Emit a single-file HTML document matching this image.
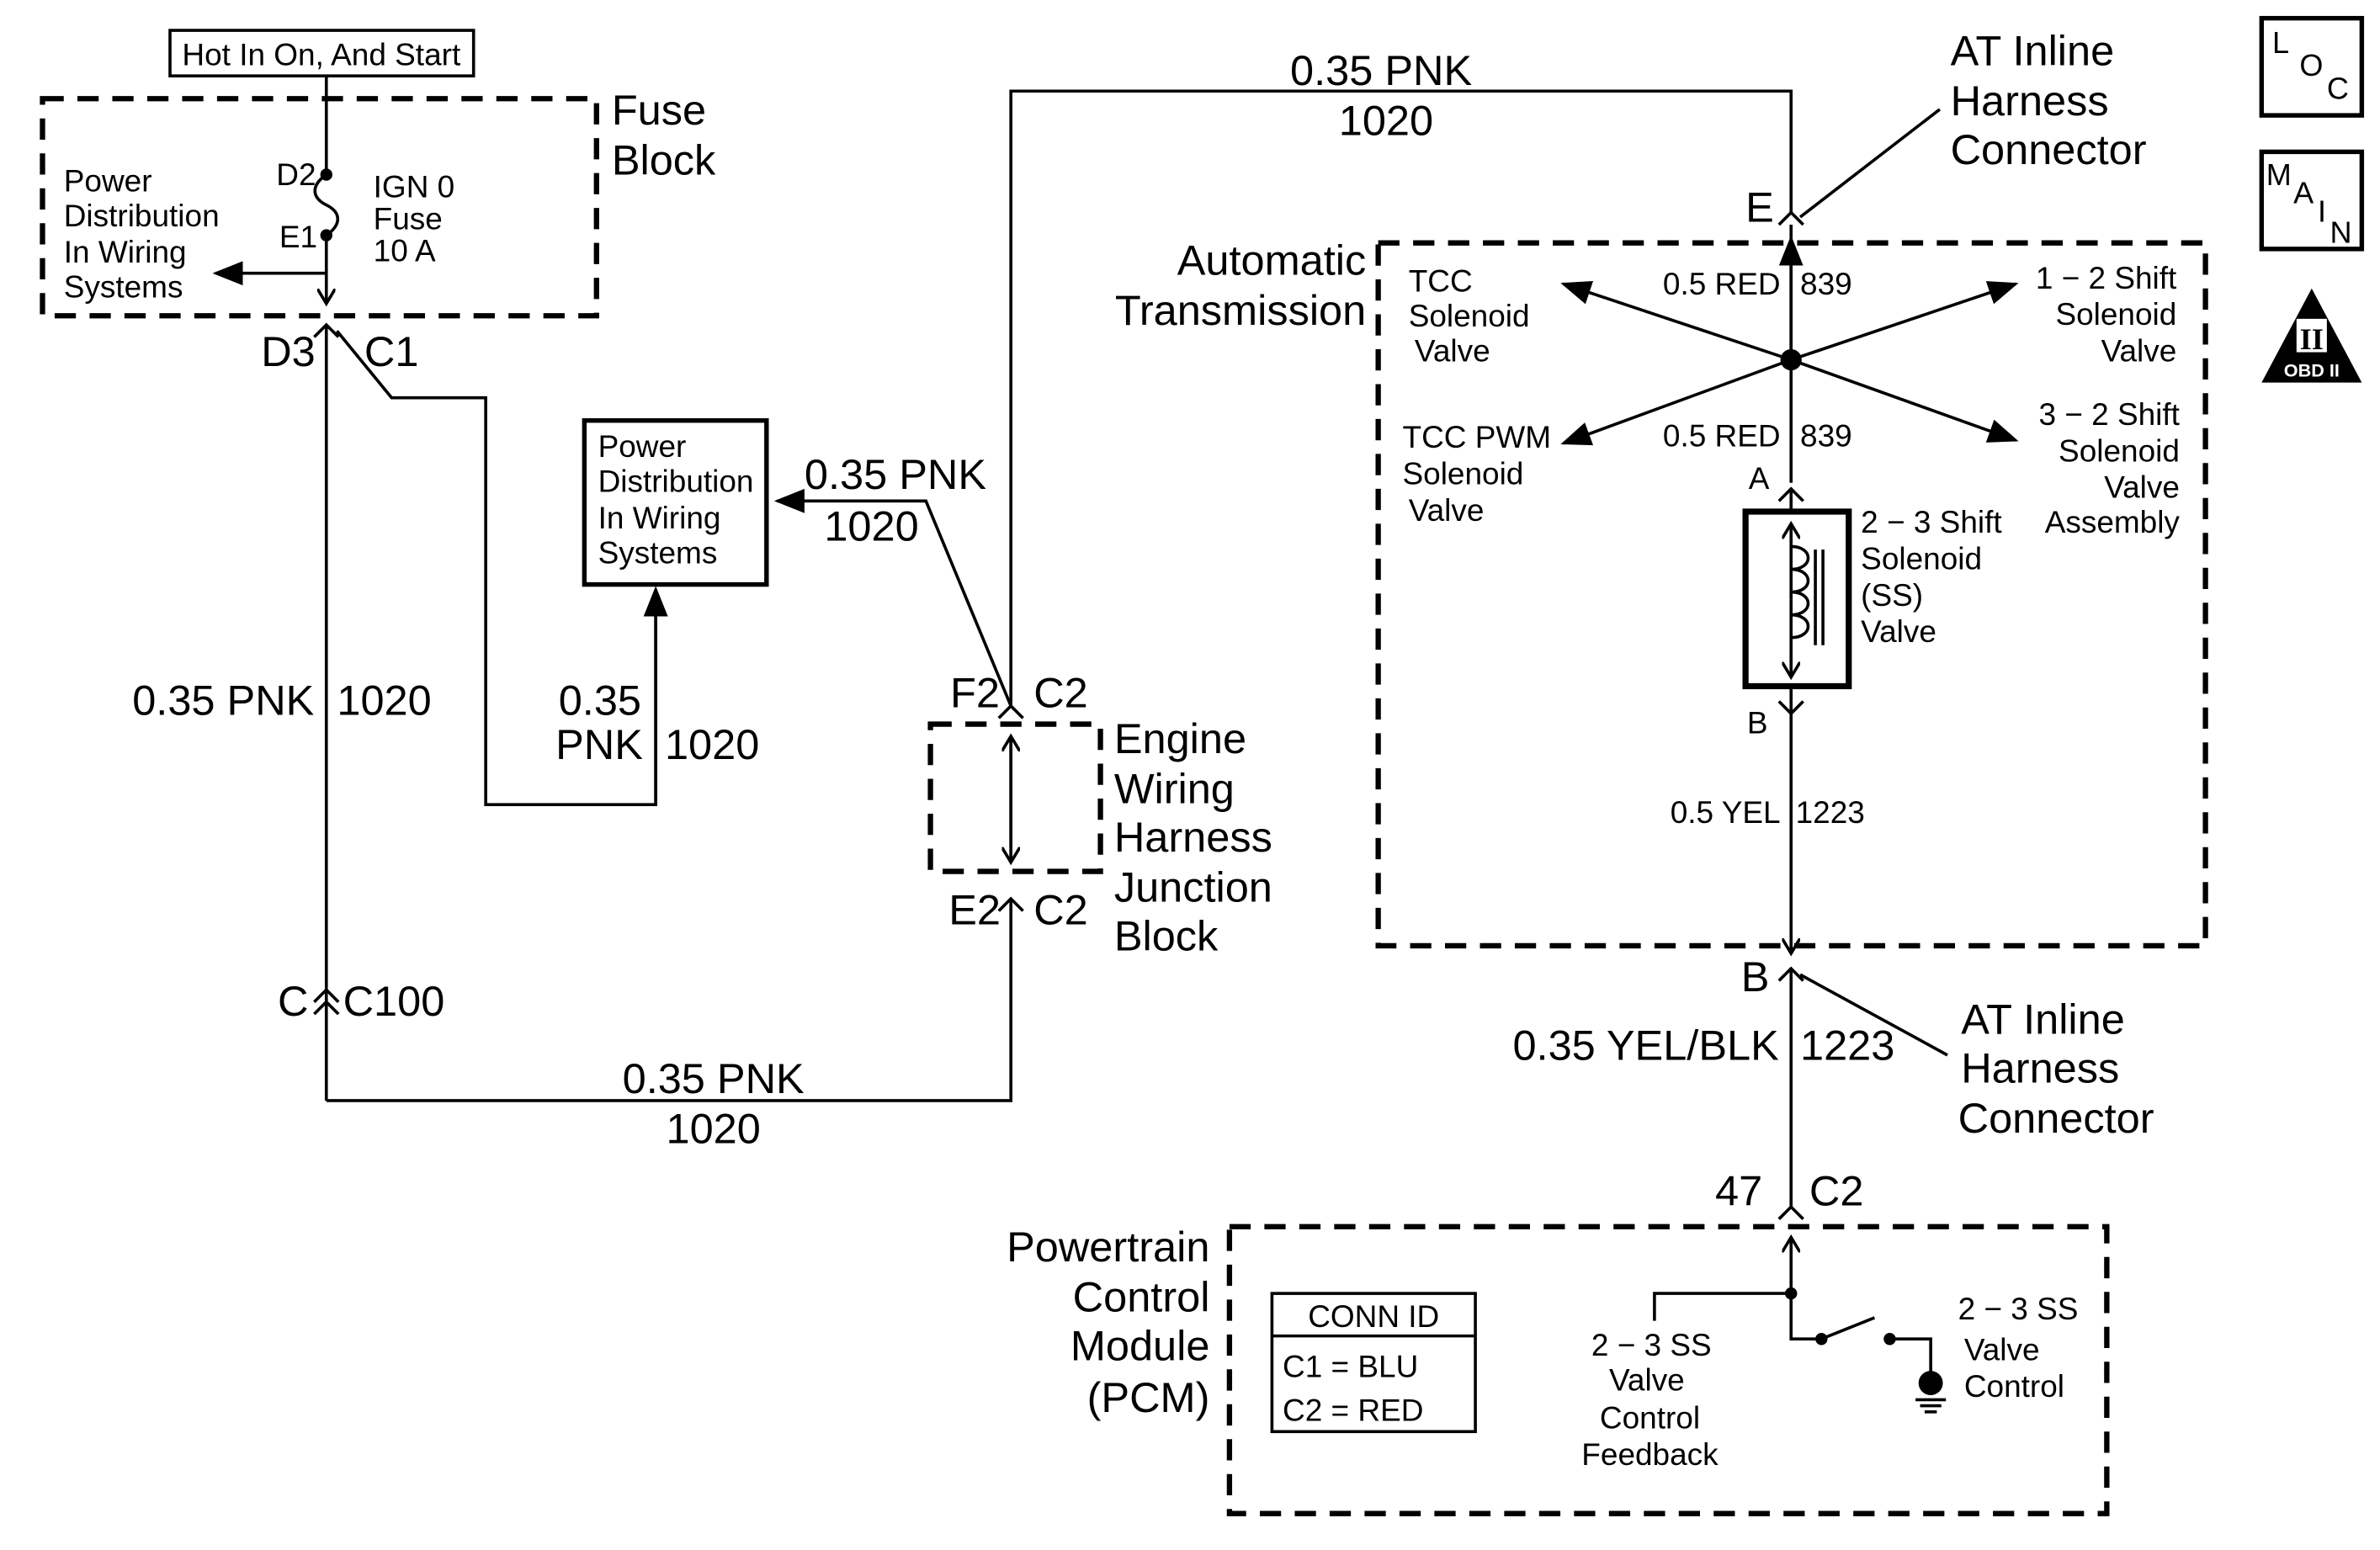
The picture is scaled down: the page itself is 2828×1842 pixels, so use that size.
<!DOCTYPE html>
<html><head><meta charset="utf-8"><style>
html,body{margin:0;padding:0;background:#fff;}
svg{display:block;}
text{font-family:"Liberation Sans",Arial,sans-serif;fill:#000;}
.b{font-size:28px;}
.s{font-size:20.5px;}
</style></head><body>
<svg width="2828" height="1842" viewBox="0 0 1568 1021" preserveAspectRatio="none" xmlns="http://www.w3.org/2000/svg">
<defs>
<marker id="ar2" markerWidth="20" markerHeight="16" refX="18" refY="8" orient="auto" markerUnits="userSpaceOnUse"><path d="M0,0 L20,8 L0,16 z" fill="#000"/></marker>
<marker id="oa" markerWidth="12" markerHeight="12" refX="10" refY="6" orient="auto" markerUnits="userSpaceOnUse"><path d="M0,0 L10,6 L0,12" fill="none" stroke="#000" stroke-width="2"/></marker>
</defs>
<g fill="none" stroke="#000" stroke-width="2">
<g stroke-width="3.5" stroke-dasharray="14,9">
<rect x="28" y="65" width="365" height="143"/>
<rect x="613" y="477" width="112" height="97"/>
<rect x="908" y="160" width="545" height="463"/>
<rect x="810" y="808" width="578" height="189"/>
</g>
<rect x="112" y="20" width="200" height="30"/>
<rect x="385" y="277" width="120" height="108" stroke-width="3"/>
<line x1="215" y1="50" x2="215" y2="115"/>
<path d="M215,115 C205,122 205,130 215,135 C225,140 225,148 215,155"/>
<line x1="215" y1="155" x2="215" y2="200" marker-end="url(#oa)"/>
<line x1="215" y1="180" x2="142" y2="180" marker-end="url(#ar2)"/>
<path d="M207,222 L215,214 L223,222"/>
<line x1="215" y1="214" x2="215" y2="725"/>
<path d="M222,218 L258,262 L320,262 L320,530 L432,530 L432,390" />
<line x1="432" y1="530" x2="432" y2="388" marker-end="url(#ar2)"/>
<path d="M207,660 L215,652 L223,660 M207,668 L215,660 L223,668"/>
<path d="M215,725 L666,725 L666,592"/>
<path d="M658,600 L666,592 L674,600"/>
<path d="M658,473 L666,465 L674,473"/>
<path d="M666,465 L666,60 L1180,60 L1180,140"/>
<path d="M666,465 L610,330 L512,330"/>
<line x1="610" y1="330" x2="512" y2="330" marker-end="url(#ar2)"/>
<line x1="666" y1="568" x2="666" y2="485" marker-end="url(#oa)"/>
<line x1="666" y1="485" x2="666" y2="568" marker-end="url(#oa)"/>
<path d="M1172,148 L1180,140 L1188,148"/>
<line x1="1278" y1="72" x2="1186" y2="143"/>
<line x1="1180" y1="148" x2="1180" y2="318"/>
<line x1="1180" y1="237" x2="1180" y2="157" marker-end="url(#ar2)"/>
<line x1="1180" y1="237" x2="1030" y2="187" marker-end="url(#ar2)"/>
<line x1="1180" y1="237" x2="1328" y2="187" marker-end="url(#ar2)"/>
<line x1="1180" y1="237" x2="1030" y2="292" marker-end="url(#ar2)"/>
<line x1="1180" y1="237" x2="1328" y2="290" marker-end="url(#ar2)"/>
<path d="M1172,330 L1180,322 L1188,330"/>
<line x1="1180" y1="322" x2="1180" y2="337"/>
<rect x="1150" y="337" width="68" height="115" stroke-width="4"/>
<line x1="1180" y1="395" x2="1180" y2="345" marker-end="url(#oa)"/>
<line x1="1180" y1="395" x2="1180" y2="446" marker-end="url(#oa)"/>
<path d="M1180,360 C1195,360 1195,375 1180,375 C1195,375 1195,390 1180,390 C1195,390 1195,405 1180,405 C1195,405 1195,420 1180,420"/>
<line x1="1196" y1="362" x2="1196" y2="425"/>
<line x1="1201" y1="362" x2="1201" y2="425"/>
<path d="M1172,462 L1180,470 L1188,462"/>
<line x1="1180" y1="452" x2="1180" y2="470"/>
<line x1="1180" y1="470" x2="1180" y2="628" marker-end="url(#oa)"/>
<path d="M1172,646 L1180,638 L1188,646"/>
<line x1="1180" y1="638" x2="1180" y2="795"/>
<line x1="1186" y1="642" x2="1283" y2="695"/>
<path d="M1172,803 L1180,795 L1188,803"/>
<line x1="1180" y1="852" x2="1180" y2="815" marker-end="url(#oa)"/>
<path d="M1180,852 L1090,852 L1090,870 M1180,852 L1180,882 L1200,882 L1235,868 M1245,882 L1272,882 L1272,905"/>
<line x1="1262" y1="922" x2="1282" y2="922"/><line x1="1265" y1="926" x2="1279" y2="926"/><line x1="1268" y1="930" x2="1276" y2="930"/>
<rect x="838" y="852" width="134" height="91"/>
<line x1="838" y1="880" x2="972" y2="880"/>
<rect x="1490" y="12" width="66" height="64" stroke-width="3"/>
<rect x="1490" y="100" width="66" height="64" stroke-width="3"/>
</g>
<g fill="#000">
<circle cx="215" cy="115" r="4"/><circle cx="215" cy="155" r="4"/>
<circle cx="1180" cy="237" r="7"/>
<circle cx="1180" cy="852" r="4"/><circle cx="1200" cy="882" r="4"/><circle cx="1245" cy="882" r="4"/>
<circle cx="1272" cy="911" r="8"/>
<path d="M1523,190 L1490,252 L1556,252 z"/>
</g>
<rect x="1513" y="210" width="20" height="22" fill="#fff"/>
<text x="1523" y="230" font-size="20" text-anchor="middle" style="font-family:'Liberation Serif',serif;font-weight:bold">II</text>
<text x="1523" y="248" font-size="12" text-anchor="middle" font-weight="bold" style="fill:#fff">OBD II</text>
<text x="1497" y="35" font-size="20">L</text><text x="1515" y="50" font-size="20">O</text><text x="1533" y="65" font-size="20">C</text>
<text x="1493" y="122" font-size="20">M</text><text x="1511" y="134" font-size="20">A</text><text x="1527" y="146" font-size="20">I</text><text x="1535" y="160" font-size="20">N</text>

<text class="s" x="120" y="43">Hot In On, And Start</text>
<text class="b" x="403" y="82">Fuse</text><text class="b" x="403" y="115">Block</text>
<text class="s" x="182" y="122">D2</text><text class="s" x="184" y="163">E1</text>
<text class="s" x="246" y="130">IGN 0</text><text class="s" x="246" y="151">Fuse</text><text class="s" x="246" y="172">10 A</text>
<text class="s" x="42" y="126">Power</text><text class="s" x="42" y="149">Distribution</text><text class="s" x="42" y="173">In Wiring</text><text class="s" x="42" y="196">Systems</text>
<text class="b" x="172" y="241">D3</text><text class="b" x="240" y="241">C1</text>
<text class="s" x="394" y="301">Power</text><text class="s" x="394" y="324">Distribution</text><text class="s" x="394" y="348">In Wiring</text><text class="s" x="394" y="371">Systems</text>
<text class="b" x="207" y="471" text-anchor="end">0.35 PNK</text><text class="b" x="222" y="471">1020</text>
<text class="b" x="368" y="471">0.35</text><text class="b" x="366" y="500">PNK</text><text class="b" x="438" y="500">1020</text>
<text class="b" x="530" y="322">0.35 PNK</text><text class="b" x="543" y="356">1020</text>
<text class="b" x="850" y="56">0.35 PNK</text><text class="b" x="882" y="89">1020</text>
<text class="b" x="626" y="466">F2</text><text class="b" x="681" y="466">C2</text>
<text class="b" x="625" y="609">E2</text><text class="b" x="681" y="609">C2</text>
<text class="b" x="734" y="496">Engine</text><text class="b" x="734" y="529">Wiring</text><text class="b" x="734" y="561">Harness</text><text class="b" x="734" y="594">Junction</text><text class="b" x="734" y="626">Block</text>
<text class="b" x="183" y="669">C</text><text class="b" x="226" y="669">C100</text>
<text class="b" x="470" y="720" text-anchor="middle">0.35 PNK</text><text class="b" x="470" y="753" text-anchor="middle">1020</text>
<text class="b" x="1285" y="43">AT Inline</text><text class="b" x="1285" y="76">Harness</text><text class="b" x="1285" y="108">Connector</text>
<text class="b" x="1150" y="146">E</text>
<text class="b" x="900" y="181" text-anchor="end">Automatic</text><text class="b" x="900" y="214" text-anchor="end">Transmission</text>
<text class="s" x="928" y="192">TCC</text><text class="s" x="928" y="215">Solenoid</text><text class="s" x="932" y="238">Valve</text>
<text class="s" x="1434" y="190" text-anchor="end">1 − 2 Shift</text><text class="s" x="1434" y="214" text-anchor="end">Solenoid</text><text class="s" x="1434" y="238" text-anchor="end">Valve</text>
<text class="s" x="924" y="295">TCC PWM</text><text class="s" x="924" y="319">Solenoid</text><text class="s" x="928" y="343">Valve</text>
<text class="s" x="1436" y="280" text-anchor="end">3 − 2 Shift</text><text class="s" x="1436" y="304" text-anchor="end">Solenoid</text><text class="s" x="1436" y="328" text-anchor="end">Valve</text><text class="s" x="1436" y="351" text-anchor="end">Assembly</text>
<text class="s" x="1173" y="194" text-anchor="end">0.5 RED</text><text class="s" x="1186" y="194">839</text>
<text class="s" x="1173" y="294" text-anchor="end">0.5 RED</text><text class="s" x="1186" y="294">839</text>
<text class="s" x="1152" y="322">A</text>
<text class="s" x="1226" y="351">2 − 3 Shift</text><text class="s" x="1226" y="375">Solenoid</text><text class="s" x="1226" y="399">(SS)</text><text class="s" x="1226" y="423">Valve</text>
<text class="s" x="1151" y="483">B</text>
<text class="s" x="1173" y="542" text-anchor="end">0.5 YEL</text><text class="s" x="1183" y="542">1223</text>
<text class="b" x="1147" y="653">B</text>
<text class="b" x="1292" y="681">AT Inline</text><text class="b" x="1292" y="713">Harness</text><text class="b" x="1290" y="746">Connector</text>
<text class="b" x="1172" y="698" text-anchor="end">0.35 YEL/BLK</text><text class="b" x="1186" y="698">1223</text>
<text class="b" x="1130" y="794">47</text><text class="b" x="1192" y="794">C2</text>
<text class="b" x="797" y="831" text-anchor="end">Powertrain</text><text class="b" x="797" y="864" text-anchor="end">Control</text><text class="b" x="797" y="896" text-anchor="end">Module</text><text class="b" x="797" y="930" text-anchor="end">(PCM)</text>
<text class="s" x="905" y="874" text-anchor="middle">CONN ID</text>
<text class="s" x="845" y="907">C1  =  BLU</text><text class="s" x="845" y="936">C2  =  RED</text>
<text class="s" x="1088" y="893" text-anchor="middle">2 − 3 SS</text><text class="s" x="1085" y="916" text-anchor="middle">Valve</text><text class="s" x="1087" y="941" text-anchor="middle">Control</text><text class="s" x="1087" y="965" text-anchor="middle">Feedback</text>
<text class="s" x="1290" y="869">2 − 3 SS</text><text class="s" x="1294" y="896">Valve</text><text class="s" x="1294" y="920">Control</text>
</svg>
</body></html>
